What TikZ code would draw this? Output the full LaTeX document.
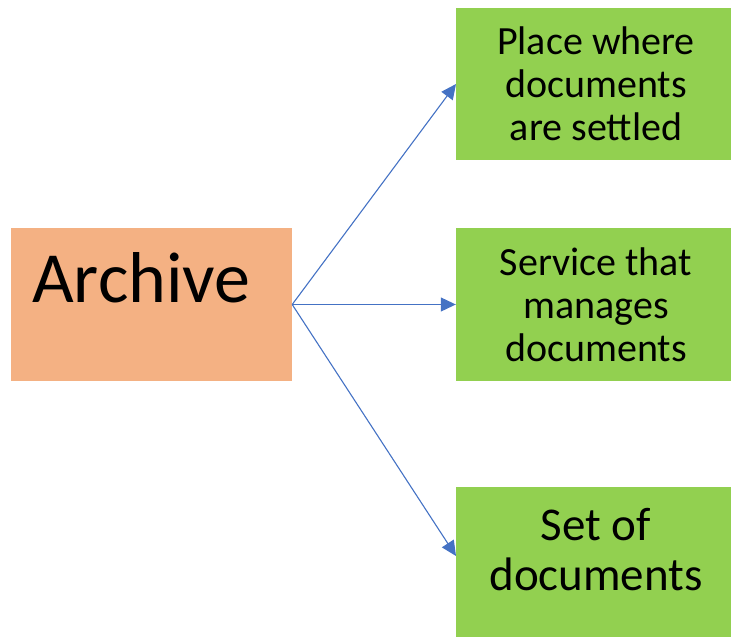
\documentclass[tikz,border=0pt]{standalone}
\usepackage{fontspec}
\setmainfont{Carlito}
\usetikzlibrary{arrows.meta}
\definecolor{orangefill}{HTML}{F4B183}
\definecolor{greenfill}{HTML}{92D050}
\definecolor{arrowblue}{HTML}{4472C4}
\tikzset{
  box/.style={rectangle, draw=none, inner sep=0pt},
  gbox/.style={box, fill=greenfill, minimum width=275pt},
  gtext/.style={align=center, inner sep=0pt, font=\fontsize{40}{43}\selectfont},
  conn/.style={draw=arrowblue, line width=1.1pt, -{Triangle[length=15pt,width=14pt]}}
}
\begin{document}
\begin{tikzpicture}[x=1pt,y=-1pt]
\useasboundingbox (0,0) rectangle (731,637);
\node[box, fill=orangefill, minimum width=281pt, minimum height=153pt] (archive) at (151.5,304.5) {};
\node[anchor=base west, inner sep=0pt, font=\fontsize{72}{76}\selectfont] (archivetext) at (32,302) {Archive};
\node[gbox, minimum height=152pt] (p1) at (593.5,84) {};
\node[gbox, minimum height=153pt] (p2) at (593.5,304.5) {};
\node[gbox, minimum height=150pt] (p3) at (593.5,562) {};
\node[gtext] (t1) at (596,84) {Place where\\documents\\are settled};
\node[gtext] (t2) at (596,305) {Service that\\manages\\documents};
\node[gtext, font=\fontsize{47}{50}\selectfont] (t3) at (596,550) {Set of\\documents};
\coordinate (src) at (archive.east);
\coordinate (e1) at (456,84);
\coordinate (e3) at (456,556);
\draw[conn] (src) -- (e1);
\draw[conn] (src) -- (p2.west);
\draw[conn] (src) -- (e3);
\end{tikzpicture}
\end{document}
